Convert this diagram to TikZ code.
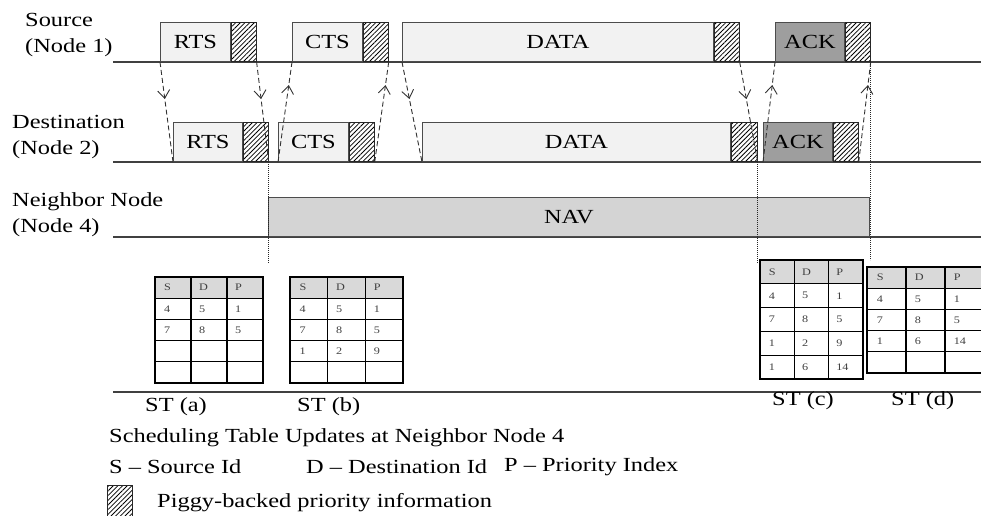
\documentclass[tikz,border=0pt]{standalone}
\usepackage{fontspec}
\setmainfont{Liberation Serif}[FakeStretch=1.22]
\usepackage{tikz}
\usetikzlibrary{arrows.meta,positioning,patterns.meta,decorations.markings}

\begin{document}
\begin{tikzpicture}[
  x=1pt, y=-1pt,
  font=\fontsize{20}{26}\selectfont,
  tl/.style={line width=1.2pt,black!75},
  lbl/.style={anchor=west,align=left,inner sep=0pt},
  txt/.style={anchor=west,inner sep=0pt},
  frm/.style={draw=black!70,fill=black!5,line width=0.8pt,inner sep=0pt,
              minimum height=39pt,anchor=south west},
  ackfrm/.style={frm,fill=black!38},
  navbox/.style={frm,fill=black!17},
  hat/.style={draw=black!85,line width=0.9pt,inner sep=0pt,minimum height=39pt,
              pattern={Lines[angle=45,distance=3.3pt,line width=0.8pt]}},
  msg/.style={dash pattern=on 5pt off 3pt,line width=0.9pt,black!80,
              postaction={decorate},
              decoration={markings,mark=at position #1 with
                {\arrow[solid,line width=0.9pt]{Straight Barb[length=8pt,width=12pt]}}}},
  msg/.default=0.37,
  dots/.style={line width=1.5pt,black!85,dash pattern=on 1.2pt off 0.8pt},
  cell/.style={line width=1.2pt,black},
  tabframe/.style={line width=2.6pt,black},
  entry/.style={anchor=west,inner sep=0pt,font=\fontsize{10}{11}\selectfont,black!75}
]
  \useasboundingbox (0,0) rectangle (981,515);

  % time lines
  \draw[tl] (113,62) -- (981,62);
  \draw[tl] (113,162) -- (981,162);
  \draw[tl] (113,237) -- (981,237);
  \draw[tl] (113,392) -- (981,392);

  \node[lbl] (srclbl) at (25,35) {Source\\(Node 1)};
  \node[lbl] (dstlbl) at (12,137) {Destination\\(Node 2)};
  \node[lbl] (nbrlbl) at (12,215) {Neighbor Node\\(Node 4)};

  % source frames
  \node[frm,minimum width=70] (sRTS) at (160,62) {RTS};
  \node[hat,minimum width=25,right=0pt of sRTS] (sRTSh) {};
  \node[frm,minimum width=70] (sCTS) at (292,62) {CTS};
  \node[hat,minimum width=25,right=0pt of sCTS] (sCTSh) {};
  \node[frm,minimum width=311] (sDATA) at (402,62) {DATA};
  \node[hat,minimum width=25,right=0pt of sDATA] (sDATAh) {};
  \node[ackfrm,minimum width=69] (sACK) at (775,62) {ACK};
  \node[hat,minimum width=25,right=0pt of sACK] (sACKh) {};

  % destination frames
  \node[frm,minimum width=69] (dRTS) at (173,162) {RTS};
  \node[hat,minimum width=25,right=0pt of dRTS] (dRTSh) {};
  \node[frm,minimum width=70] (dCTS) at (278,162) {CTS};
  \node[hat,minimum width=25,right=0pt of dCTS] (dCTSh) {};
  \node[frm,minimum width=308] (dDATA) at (422,162) {DATA};
  \node[hat,minimum width=26,right=0pt of dDATA] (dDATAh) {};
  \node[ackfrm,minimum width=69] (dACK) at (763,162) {ACK};
  \node[hat,minimum width=25,right=0pt of dACK] (dACKh) {};

  % neighbor
  \node[navbox,minimum width=601] (nav) at (268,237) {NAV};

  % messages
  \draw[msg] (sRTS.south west) -- (dRTS.south west);
  \draw[msg] (sRTSh.south east) -- (dRTSh.south east);
  \draw[msg=0.77] (dCTS.south west) -- (sCTS.south west);
  \draw[msg=0.77] (dCTSh.south east) -- (sCTSh.south east);
  \draw[msg] (sDATA.south west) -- (dDATA.south west);
  \draw[msg] (sDATAh.south east) -- (dDATAh.south east);
  \draw[msg=0.77] (dACK.south west) -- (sACK.south west);
  \draw[msg=0.77] (dACKh.south east) -- (sACKh.south east);

  \draw[dots] (dRTSh.south east) -- ++(0,101);
  \draw[dots] (dDATAh.south east) -- ++(0,101);
  \draw[dots] (sACKh.south east) -- ++(0,198);

  % scheduling tables
  \foreach \tb/\xa/\ya/\cw/\rh/\rows in {
      a/155/277/36/21.2/{4/5/1,7/8/5},
      b/290/277/37.7/21.2/{4/5/1,7/8/5,1/2/9},
      c/760/260/34.3/23.8/{4/5/1,7/8/5,1/2/9,1/6/14},
      d/867/267/39/21.2/{4/5/1,7/8/5,1/6/14}} {
    \fill[black!15] (\xa,\ya) rectangle ++(3*\cw,\rh);
    \foreach \i in {1,...,4}
      \draw[cell] (\xa,\ya+\i*\rh) -- ++(3*\cw,0);
    \foreach \j in {1,2}
      \draw[cell] (\xa+\j*\cw,\ya) -- ++(0,5*\rh);
    \draw[tabframe] (\xa,\ya) rectangle ++(3*\cw,5*\rh);
    \node[entry] (\tb-0-s) at (\xa+0.25*\cw,\ya+0.5*\rh) {S};
    \node[entry] (\tb-0-d) at (\xa+1.22*\cw,\ya+0.5*\rh) {D};
    \node[entry] (\tb-0-p) at (\xa+2.22*\cw,\ya+0.5*\rh) {P};
    \foreach \cs/\cd/\cp [count=\rw] in \rows {
      \node[entry] (\tb-\rw-s) at (\xa+0.25*\cw,\ya+\rw*\rh+0.5*\rh) {\cs};
      \node[entry] (\tb-\rw-d) at (\xa+1.22*\cw,\ya+\rw*\rh+0.5*\rh) {\cd};
      \node[entry] (\tb-\rw-p) at (\xa+2.22*\cw,\ya+\rw*\rh+0.5*\rh) {\cp};
    }
  }

  \node[txt] (sta) at (145,407) {ST (a)};
  \node[txt] (stb) at (297,407) {ST (b)};
  \node[txt] (stc) at (772,401) {ST (c)};
  \node[txt] (std) at (891,401) {ST (d)};

  % legend
  \node[txt] (upd) at (109,438) {Scheduling Table Updates at Neighbor Node 4};
  \node[txt] (sid) at (109,467) {S – Source Id};
  \node[txt] (did) at (306,467) {D – Destination Id};
  \node[txt] (pid) at (504,467) {P – Priority Index};
  \node[hat,minimum width=25,minimum height=32,anchor=north west] (leg) at (107,485) {};
  \node[txt] (legtxt) at (157,503) {Piggy-backed priority information};
\end{tikzpicture}
\end{document}
